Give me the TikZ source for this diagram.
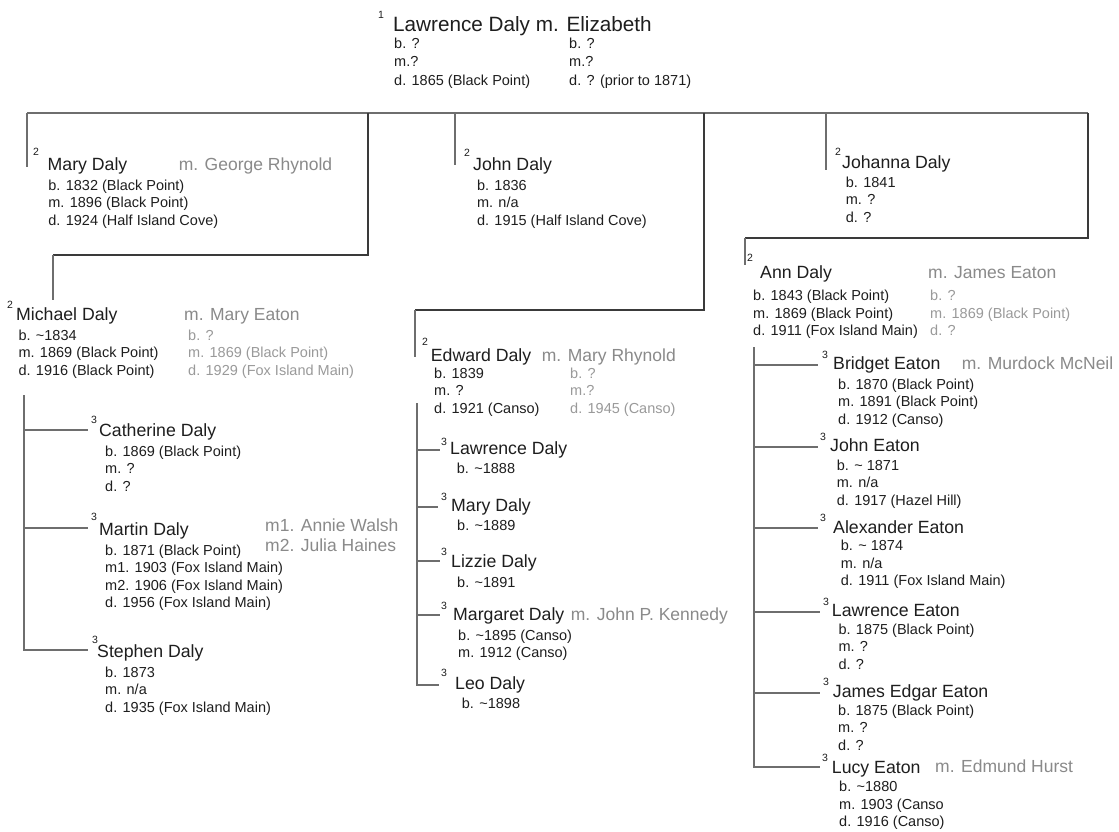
\documentclass[tikz,border=0pt]{standalone}
\usepackage{fontspec}
\setmainfont{Liberation Sans}
\definecolor{ink}{HTML}{1E1E1E}
\definecolor{spousec}{HTML}{8A8A8A}
\definecolor{spinfoc}{HTML}{9A9A9A}
\definecolor{barc}{HTML}{6E6E6E}
\definecolor{trunkc}{HTML}{3A3A3A}
\newcommand{\infolines}[1]{\begin{tabular}[t]{@{}l@{}}#1\end{tabular}}
\tikzset{
  pname/.style={anchor=base west, inner sep=0pt, text=ink, font=\fontsize{17.7}{20}\selectfont},
  ptitle/.style={anchor=base west, inner sep=0pt, text=ink, font=\fontsize{20.7}{24}\selectfont},
  spname/.style={anchor=base west, inner sep=0pt, text=spousec, font=\fontsize{17.5}{20}\selectfont},
  info/.style={anchor=base west, inner sep=0pt, text=ink, font=\fontsize{14.5}{17.5}\selectfont},
  topinfo/.style={anchor=base west, inner sep=0pt, text=ink, font=\fontsize{14.5}{18.5}\selectfont},
  spinfo/.style={info, text=spinfoc},
  gennum/.style={anchor=center, inner sep=0pt, text=ink, font=\fontsize{10.5}{12}\selectfont},
  topbar/.style={draw=barc, line width=2pt},
  trunk/.style={draw=trunkc, line width=2.4pt},
  drop/.style={draw=barc, line width=1.8pt},
  twig/.style={draw=barc, line width=1.6pt},
}
\begin{document}
\begin{tikzpicture}[x=1pt,y=-1pt]
\useasboundingbox[fill=white] (0,0) rectangle (1119,832);

% ---------- generation 1 ----------
\node[gennum] (g1) at (381,15) {1};
\node[ptitle] (lawrence) at (393,32) {Lawrence Daly m. Elizabeth};
\node[topinfo] (lawrenceinfo) at (394,48.5) {\infolines{b. ?\\ m.?\\ d. 1865 (Black Point)}};
\node[topinfo] (elizabethinfo) at (569,48.5) {\infolines{b. ?\\ m.?\\ d. ? (prior to 1871)}};

% ---------- connectors: top level ----------
\coordinate (barL) at (27,113);
\coordinate (barR) at (1088,113);
\coordinate (trunkA) at (368,113);
\coordinate (trunkB) at (704,113);
\coordinate (johnTop) at (455,113);
\coordinate (johannaTop) at (826,113);
\draw[topbar] (barL) -- (barR);

% Mary
\coordinate (maryEnd) at (27,167);
\draw[drop] (barL) -- (maryEnd);
% John
\coordinate (johnEnd) at (455,165);
\draw[drop] (johnTop) -- (johnEnd);
% Johanna
\coordinate (johannaEnd) at (826,170);
\draw[drop] (johannaTop) -- (johannaEnd);
% Michael
\coordinate (michaelKnee) at (368,255);
\coordinate (michaelCorner) at (53,255);
\coordinate (michaelEnd) at (53,300);
\draw[trunk] (trunkA) -- (michaelKnee) -- (michaelCorner);
\draw[drop] (michaelCorner) -- (michaelEnd);
% Edward
\coordinate (edwardKnee) at (704,310);
\coordinate (edwardCorner) at (415,310);
\coordinate (edwardEnd) at (415,357);
\draw[trunk] (trunkB) -- (edwardKnee) -- (edwardCorner);
\draw[drop] (edwardCorner) -- (edwardEnd);
% Ann
\coordinate (annKnee) at (1088,238);
\coordinate (annCorner) at (745,238);
\coordinate (annEnd) at (745,265);
\draw[trunk] (barR) -- (annKnee) -- (annCorner);
\draw[drop] (annCorner) -- (annEnd);

% ---------- generation 2 ----------
% Mary Daly
\node[gennum] (g2mary) at (36,152) {2};
\node[pname] (mary) at (47.5,170) {Mary Daly};
\node[spname] (marysp) at (178.6,170) {m. George Rhynold};
\node[info] (maryinfo) at (48.2,190) {\infolines{b. 1832 (Black Point)\\ m. 1896 (Black Point)\\ d. 1924 (Half Island Cove)}};

% John Daly
\node[gennum] (g2john) at (467,153) {2};
\node[pname] (john) at (473,170) {John Daly};
\node[info] (johninfo) at (476.8,190) {\infolines{b. 1836\\ m. n/a\\ d. 1915 (Half Island Cove)}};

% Johanna Daly
\node[gennum] (g2johanna) at (838,152) {2};
\node[pname] (johanna) at (842,168) {Johanna Daly};
\node[info] (johannainfo) at (845.7,187) {\infolines{b. 1841\\ m. ?\\ d. ?}};

% Michael Daly
\node[gennum] (g2michael) at (10,305) {2};
\node[pname] (michael) at (16,320) {Michael Daly};
\node[spname] (michaelsp) at (184,320) {m. Mary Eaton};
\node[info] (michaelinfo) at (18.3,340) {\infolines{b. \char`~1834\\ m. 1869 (Black Point)\\ d. 1916 (Black Point)}};
\node[spinfo] (michaelspinfo) at (188,340) {\infolines{b. ?\\ m. 1869 (Black Point)\\ d. 1929 (Fox Island Main)}};

% Edward Daly
\node[gennum] (g2edward) at (425,342) {2};
\node[pname] (edward) at (430.7,361) {Edward Daly};
\node[spname] (edwardsp) at (541.7,361) {m. Mary Rhynold};
\node[info] (edwardinfo) at (434,378) {\infolines{b. 1839\\ m. ?\\ d. 1921 (Canso)}};
\node[spinfo] (edwardspinfo) at (570,378) {\infolines{b. ?\\ m.?\\ d. 1945 (Canso)}};

% Ann Daly
\node[gennum] (g2ann) at (750,258) {2};
\node[pname] (ann) at (760,278) {Ann Daly};
\node[spname] (annsp) at (928,278) {m. James Eaton};
\node[info] (anninfo) at (753,300.7) {\infolines{b. 1843 (Black Point)\\ m. 1869 (Black Point)\\ d. 1911 (Fox Island Main)}};
\node[spinfo] (annspinfo) at (930,300.7) {\infolines{b. ?\\ m. 1869 (Black Point)\\ d. ?}};

% ---------- Michael's children ----------
\coordinate (mkTop) at (24,395);
\coordinate (mkCath) at (24,430);
\coordinate (mkMart) at (24,528);
\coordinate (mkSteph) at (24,650);
\coordinate (cathEnd) at (88,430);
\coordinate (martEnd) at (88,528);
\coordinate (stephEnd) at (88,650);
\draw[twig] (mkTop) -- (mkSteph) -- (stephEnd);
\draw[twig] (mkCath) -- (cathEnd);
\draw[twig] (mkMart) -- (martEnd);

\node[gennum] (g3cath) at (94,420) {3};
\node[pname] (catherine) at (99,436) {Catherine Daly};
\node[info] (catherineinfo) at (105,456) {\infolines{b. 1869 (Black Point)\\ m. ?\\ d. ?}};

\node[gennum] (g3mart) at (94,517) {3};
\node[pname] (martin) at (99,535) {Martin Daly};
\node[spname] (martinsp) at (265,531) {\begin{tabular}[t]{@{}l@{}}m1. Annie Walsh\\ m2. Julia Haines\end{tabular}};
\node[info] (martininfo) at (105,555) {\infolines{b. 1871 (Black Point)\\ m1. 1903 (Fox Island Main)\\ m2. 1906 (Fox Island Main)\\ d. 1956 (Fox Island Main)}};

\node[gennum] (g3steph) at (95,640) {3};
\node[pname] (stephen) at (97,657) {Stephen Daly};
\node[info] (stepheninfo) at (105,677) {\infolines{b. 1873\\ m. n/a\\ d. 1935 (Fox Island Main)}};

% ---------- Edward's children ----------
\coordinate (ekTop) at (417,403);
\coordinate (ekLaw) at (417,450);
\coordinate (ekMary) at (417,507);
\coordinate (ekLiz) at (417,561);
\coordinate (ekMarg) at (417,615);
\coordinate (ekLeo) at (417,685);
\coordinate (elawEnd) at (440,450);
\coordinate (emaryEnd) at (438,507);
\coordinate (elizEnd) at (440,561);
\coordinate (emargEnd) at (440,615);
\coordinate (eleoEnd) at (439,685);
\draw[twig] (ekTop) -- (ekLeo) -- (eleoEnd);
\draw[twig] (ekLaw) -- (elawEnd);
\draw[twig] (ekMary) -- (emaryEnd);
\draw[twig] (ekLiz) -- (elizEnd);
\draw[twig] (ekMarg) -- (emargEnd);

\node[gennum] (g3elaw) at (444,442) {3};
\node[pname] (elawrence) at (450,454) {Lawrence Daly};
\node[info] (elawrenceinfo) at (456.7,473) {\infolines{b. \char`~1888}};

\node[gennum] (g3emary) at (444,497) {3};
\node[pname] (emary) at (451,511) {Mary Daly};
\node[info] (emaryinfo) at (457,530) {\infolines{b. \char`~1889}};

\node[gennum] (g3eliz) at (444,552) {3};
\node[pname] (elizzie) at (451,567) {Lizzie Daly};
\node[info] (elizzieinfo) at (457,587) {\infolines{b. \char`~1891}};

\node[gennum] (g3emarg) at (444,606) {3};
\node[pname] (emargaret) at (453,620) {Margaret Daly};
\node[spname] (emargaretsp) at (570.7,620) {m. John P. Kennedy};
\node[info] (emargaretinfo) at (458,640) {\infolines{b. \char`~1895 (Canso)\\ m. 1912 (Canso)}};

\node[gennum] (g3eleo) at (444,673) {3};
\node[pname] (eleo) at (455,689) {Leo Daly};
\node[info] (eleoinfo) at (461.7,708) {\infolines{b. \char`~1898}};

% ---------- Ann's children ----------
\coordinate (akTop) at (754,347);
\coordinate (akBrid) at (754,365);
\coordinate (akJohn) at (754,447);
\coordinate (akAlex) at (754,528);
\coordinate (akLaw) at (754,612);
\coordinate (akJam) at (754,693);
\coordinate (akLucy) at (754,767);
\coordinate (bridEnd) at (818,365);
\coordinate (ajohnEnd) at (818,447);
\coordinate (alexEnd) at (818,528);
\coordinate (alawEnd) at (820,612);
\coordinate (ajamEnd) at (820,693);
\coordinate (lucyEnd) at (820,767);
\draw[twig] (akTop) -- (akLucy) -- (lucyEnd);
\draw[twig] (akBrid) -- (bridEnd);
\draw[twig] (akJohn) -- (ajohnEnd);
\draw[twig] (akAlex) -- (alexEnd);
\draw[twig] (akLaw) -- (alawEnd);
\draw[twig] (akJam) -- (ajamEnd);

\node[gennum] (g3brid) at (825,355) {3};
\node[pname] (bridget) at (833,369) {Bridget Eaton};
\node[spname] (bridgetsp) at (961.7,369) {m. Murdock McNeil};
\node[info] (bridgetinfo) at (838,389) {\infolines{b. 1870 (Black Point)\\ m. 1891 (Black Point)\\ d. 1912 (Canso)}};

\node[gennum] (g3ajohn) at (823,437) {3};
\node[pname] (ajohn) at (830,451) {John Eaton};
\node[info] (ajohninfo) at (836.7,470) {\infolines{b. \char`~{} 1871\\ m. n/a\\ d. 1917 (Hazel Hill)}};

\node[gennum] (g3alex) at (823,518) {3};
\node[pname] (alexander) at (833,533) {Alexander Eaton};
\node[info] (alexanderinfo) at (840.7,550.7) {\infolines{b. \char`~{} 1874\\ m. n/a\\ d. 1911 (Fox Island Main)}};

\node[gennum] (g3alaw) at (826,602) {3};
\node[pname] (alawrence) at (831.7,616) {Lawrence Eaton};
\node[info] (alawrenceinfo) at (838.3,634) {\infolines{b. 1875 (Black Point)\\ m. ?\\ d. ?}};

\node[gennum] (g3ajam) at (826,682) {3};
\node[pname] (ajames) at (832.7,697) {James Edgar Eaton};
\node[info] (ajamesinfo) at (838,715) {\infolines{b. 1875 (Black Point)\\ m. ?\\ d. ?}};

\node[gennum] (g3lucy) at (825,758) {3};
\node[pname] (lucy) at (831.7,773) {Lucy Eaton};
\node[spname] (lucysp) at (935,772) {m. Edmund Hurst};
\node[info] (lucyinfo) at (839,791.7) {\infolines{b. \char`~1880\\ m. 1903 (Canso\\ d. 1916 (Canso)}};
\end{tikzpicture}
\end{document}
